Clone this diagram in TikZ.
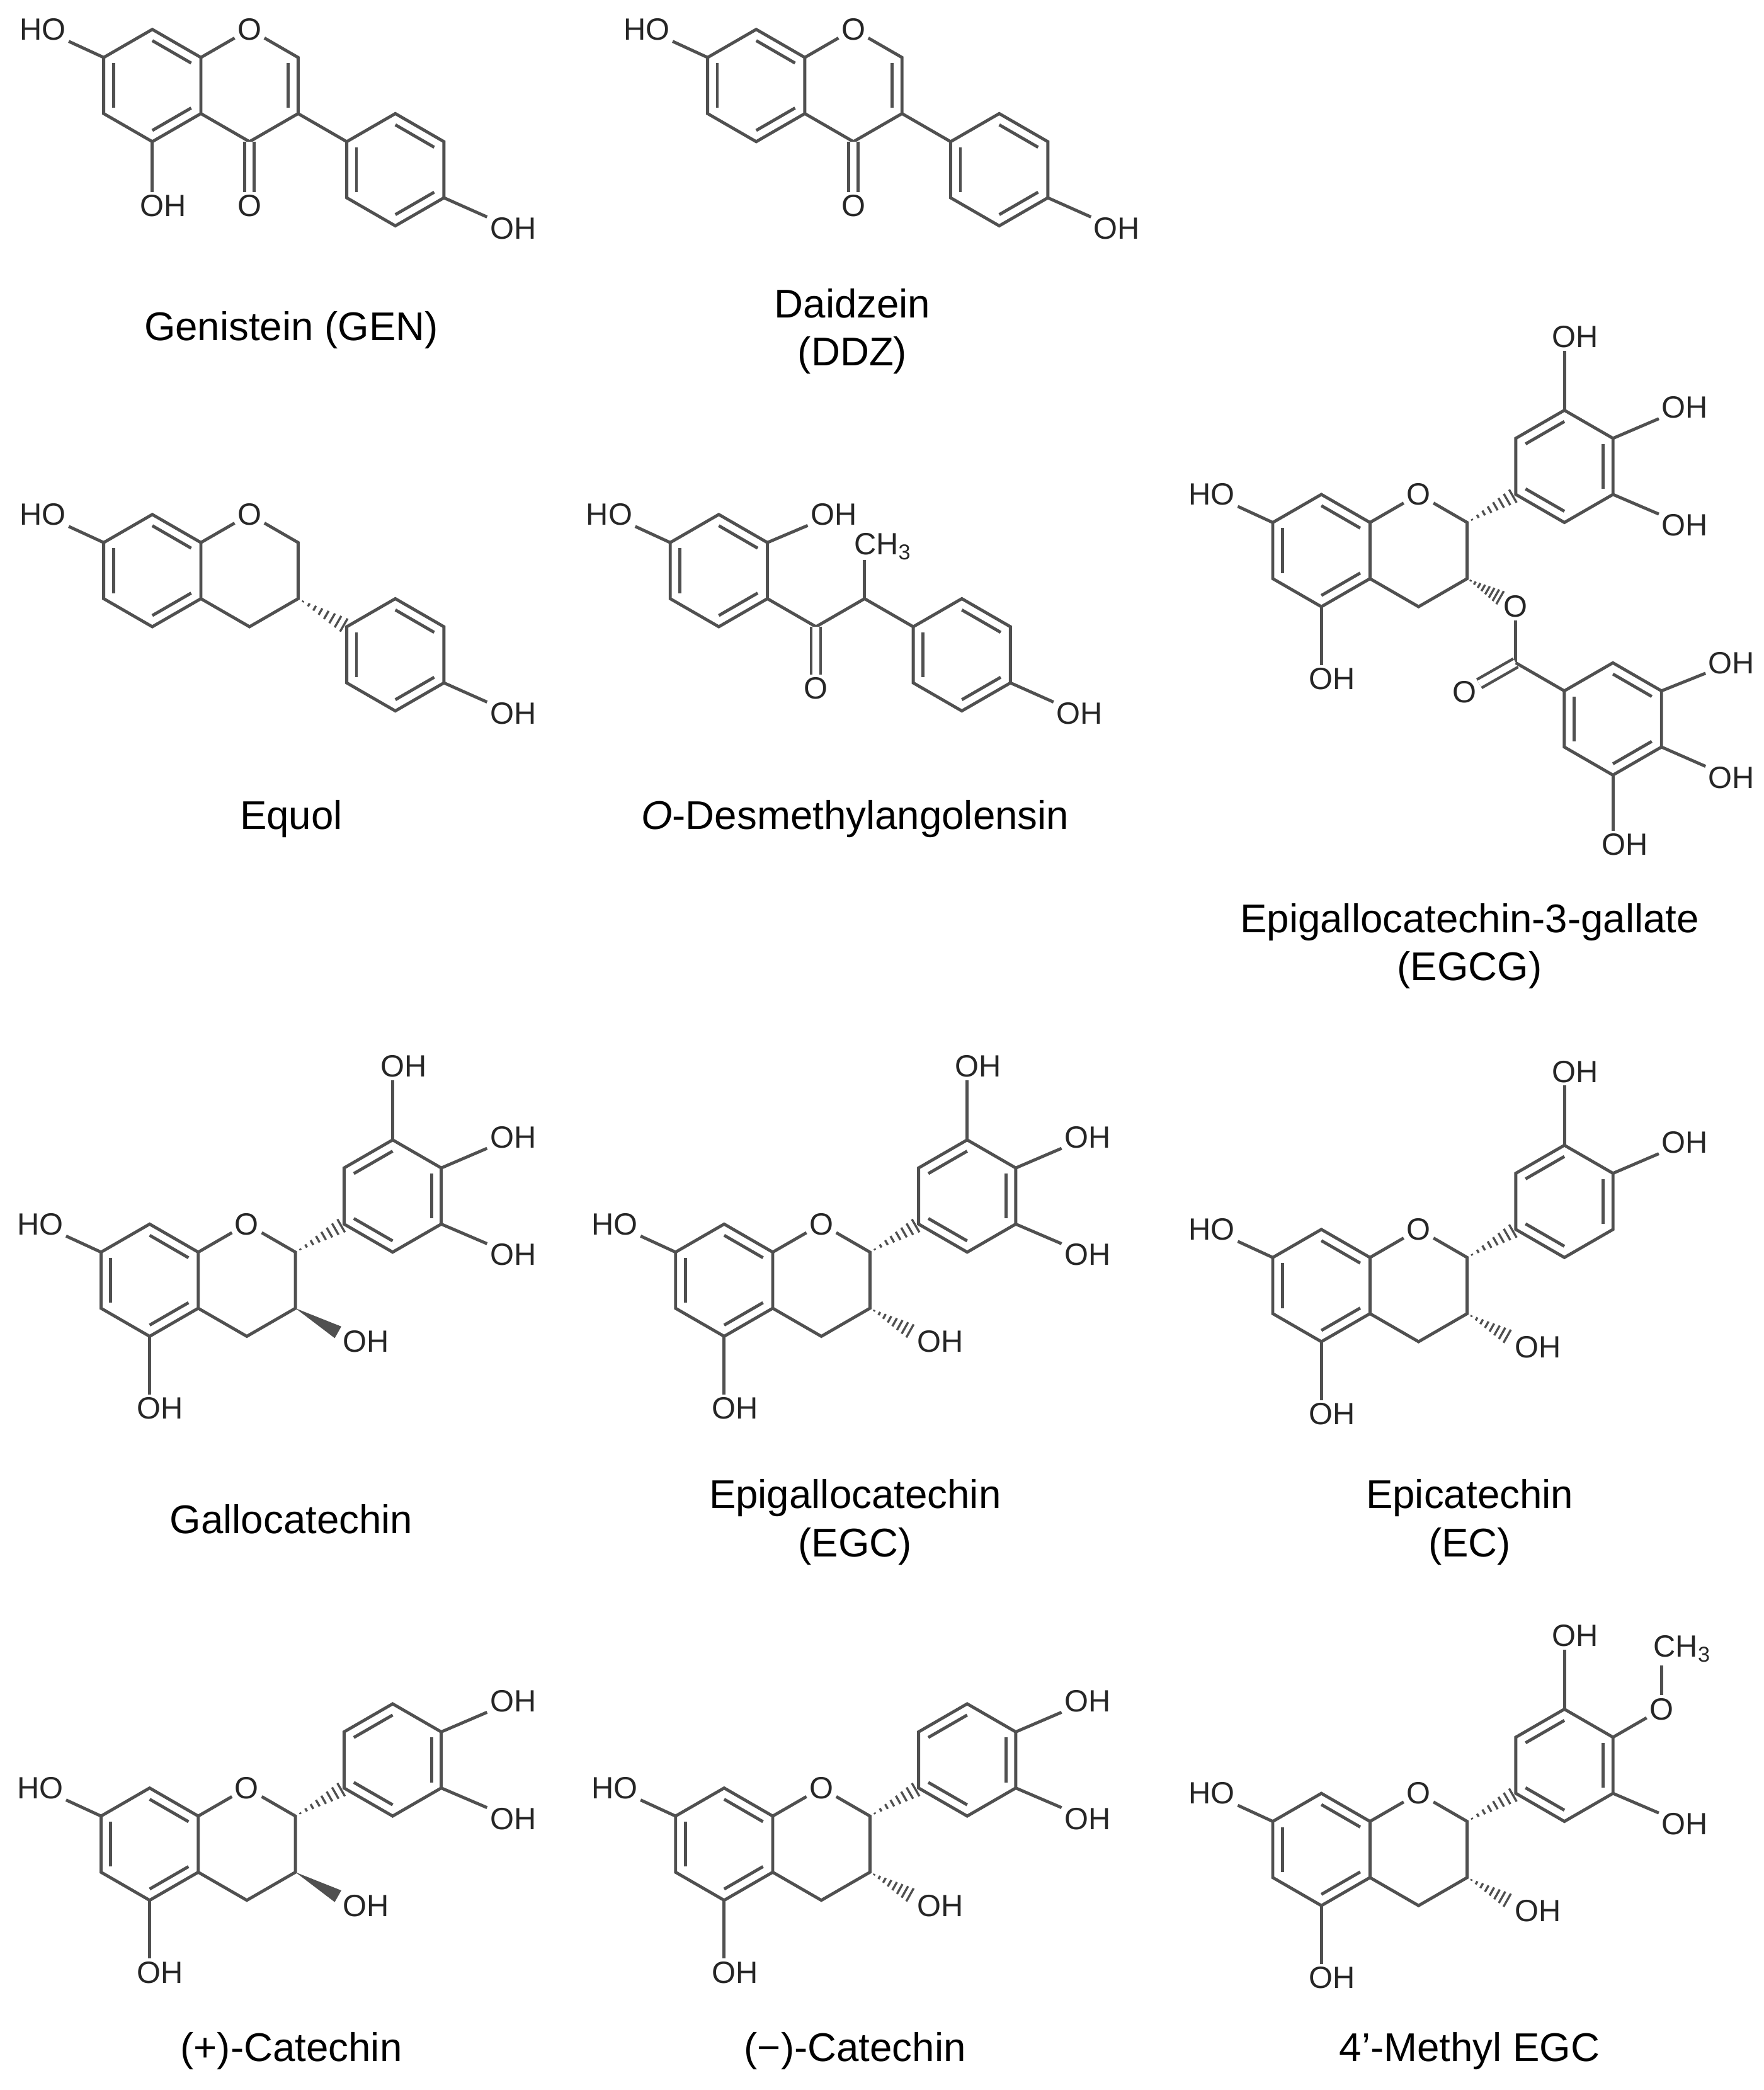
\documentclass[tikz,border=0pt]{standalone}
\usepackage{fontspec}
\setmainfont{Liberation Sans}
\usetikzlibrary{calc}
\definecolor{bondc}{HTML}{505050}
\def\bl{42}
\tikzset{bond/.style={draw=bondc,line width=2.3pt},
 dblbond/.style={draw=bondc,line width=2.1pt,double=white,double distance=5pt},
 lab/.style={font=\fontsize{23}{23}\selectfont,inner sep=2pt,text=black!85},
 capt/.style={font=\fontsize{30}{36}\selectfont,align=center,text=black}}
\newcommand\hexc[2]{\foreach \i/\a in {0/-90,1/-30,2/30,3/90,4/150,5/210}{\coordinate (#1\i) at ($(#2)+(\a:\bl)$);}}
\newcommand\fullring[1]{\draw[bond] (#10)--(#11)--(#12)--(#13)--(#14)--(#15)--cycle;}
\newcommand\db[3]{\draw[bond] ($(#1)!0.2!(#3)$) -- ($(#2)!0.2!(#3)$);}
\newcommand\hashb[2]{\foreach \t in {0.1,0.22,...,0.95}{\draw[draw=bondc,line width=1.6pt] ($(#1)!\t!(#2)!{\t*6pt}!90:(#2)$) -- ($(#1)!\t!(#2)!{\t*6pt}!-90:(#2)$);}}
\newcommand\wedgeb[2]{\fill[bondc] (#1) -- ($(#2)!5pt!90:(#1)$) -- ($(#2)!5pt!-90:(#1)$) -- cycle;}
\newcommand\flavan[2]{%
 \coordinate (A) at (0,0); \coordinate (C) at (72.75,0); \coordinate (B) at (181.9,-63);
 \hexc{a}{A}\hexc{c}{C}\hexc{b}{B}
 \fullring{a}\db{a0}{a1}{A}\db{a2}{a3}{A}\db{a4}{a5}{A}
 \node[lab] (o1) at (c0) {O};
 \draw[bond] (a1)--(o1)--(c1)--(c2)--(c3)--(a2);
 \fullring{b}\db{b5}{b0}{B}\db{b1}{b2}{B}\db{b3}{b4}{B}
 \hashb{c1}{b4}
 \node[lab] (ho7) at (-82,-42) {HO}; \draw[bond] (a5)--(ho7);
 \node[lab] (oh5) at (8,96) {OH}; \draw[bond] (a3)--(a3|-oh5.north);
 \coordinate (e3) at (141,39);
 \ifx h#2 \node[lab] (oh3) at (162,46) {OH}; \hashb{c2}{e3}\fi
 \ifx w#2 \node[lab] (oh3) at (162,46) {OH}; \wedgeb{c2}{e3}\fi
}
\newcommand\ohtop{\node[lab] (ohb0) at (190,-160) {OH}; \draw[bond] (b0)--(b0|-ohb0.south);}
\newcommand\ohur{\node[lab] (ohb1) at (272,-107) {OH}; \draw[bond] (b1)--(ohb1);}
\newcommand\ohlr{\node[lab] (ohb2) at (272,-19) {OH}; \draw[bond] (b2)--(ohb2);}
\begin{document}
\begin{tikzpicture}[x=1pt,y=-1pt]
\useasboundingbox[fill=white] (0,0) rectangle (1320,1564);
\foreach \px/\py/\kind in {114/64/g,566/64/d,114/427/e}{
\begin{scope}[shift={(\px,\py)}]
 \coordinate (A) at (0,0); \coordinate (C) at (72.75,0); \coordinate (P) at (181.9,63);
 \hexc{a}{A}\hexc{c}{C}\hexc{p}{P}
 \fullring{a}\db{a0}{a1}{A}\db{a2}{a3}{A}\db{a4}{a5}{A}
 \node[lab] (o1) at (c0) {O};
 \draw[bond] (a1)--(o1)--(c1)--(c2)--(c3)--(a2);
 \fullring{p}\db{p0}{p1}{P}\db{p2}{p3}{P}\db{p4}{p5}{P}
 \node[lab] (ho7) at (-82,-42) {HO}; \draw[bond] (a5)--(ho7);
 \node[lab] (ohp) at (270,107) {OH}; \draw[bond] (p2)--(ohp);
 \if e\kind
  \hashb{c2}{p5}
 \else
  \db{c1}{c2}{C}
  \draw[bond] (c2)--(p5);
  \node[lab] (ok) at (72.75,90) {O}; \draw[dblbond] (c3)--(ok);
 \fi
 \if g\kind
  \node[lab] (oh5) at (8,90) {OH}; \draw[bond] (a3)--(a3|-oh5.north);
 \fi
\end{scope}}
\node[capt] (t1) at (218,247) {Genistein (GEN)};
\node[capt] (t2) at (638,248) {Daidzein\\(DDZ)};
\node[capt] (t3) at (218,613) {Equol};
\begin{scope}[shift={(538,427)}]
 \coordinate (R) at (0,0); \hexc{r}{R}
 \fullring{r}\db{r0}{r1}{R}\db{r2}{r3}{R}\db{r4}{r5}{R}
 \node[lab] (hoa) at (-82,-42) {HO}; \draw[bond] (r5)--(hoa);
 \node[lab] (ohb) at (86,-42) {OH}; \draw[bond] (r1)--(ohb);
 \coordinate (K) at (72.75,42); \coordinate (H) at (109.1,21);
 \coordinate (Q) at (181.9,63); \hexc{q}{Q}
 \draw[bond] (r2)--(K)--(H)--(q5);
 \node[lab] (okd) at (72.75,88) {O}; \draw[dblbond] (K)--(okd);
 \node[lab,anchor=base west,inner sep=0pt] (me) at (101,-12) {CH\textsubscript{3}};
 \draw[bond] (H)--(109.1,-8);
 \fullring{q}\db{q0}{q1}{Q}\db{q2}{q3}{Q}\db{q4}{q5}{Q}
 \node[lab] (ohq) at (270,107) {OH}; \draw[bond] (q2)--(ohq);
\end{scope}
\node[capt] (t4) at (640,613) {\textit{O}-Desmethylangolensin};
\begin{scope}[shift={(989,412)}]
 \flavan{}{n}\ohtop\ohur\ohlr
 \node[lab] (oe) at (145.5,42) {O};
 \coordinate (oeh) at ($(c2)!0.72!(oe)$);
 \hashb{c2}{oeh}
 \coordinate (kc) at (145.5,84); \draw[bond] (oe)--(kc);
 \node[lab] (okc) at (107,106) {O}; \draw[dblbond] (kc)--(okc);
 \coordinate (G) at (218.2,126); \hexc{g}{G}
 \fullring{g}\db{g0}{g1}{G}\db{g2}{g3}{G}\db{g4}{g5}{G}
 \draw[bond] (kc)--(g5);
 \node[lab] (og1) at (307,84) {OH}; \draw[bond] (g1)--(og1);
 \node[lab] (og2) at (307,170) {OH}; \draw[bond] (g2)--(og2);
 \node[lab] (og3) at (227,220) {OH}; \draw[bond] (g3)--(g3|-og3.north);
\end{scope}
\node[capt] (t5) at (1100,708) {Epigallocatechin-3-gallate\\(EGCG)};
\begin{scope}[shift={(112,958)}] \flavan{}{w}\ohtop\ohur\ohlr \end{scope}
\begin{scope}[shift={(542,958)}] \flavan{}{h}\ohtop\ohur\ohlr \end{scope}
\begin{scope}[shift={(989,962)}] \flavan{}{h}\ohtop\ohur \end{scope}
\node[capt] (t6) at (218,1137) {Gallocatechin};
\node[capt] (t7) at (640,1139) {Epigallocatechin\\(EGC)};
\node[capt] (t8) at (1100,1139) {Epicatechin\\(EC)};
\begin{scope}[shift={(112,1380)}] \flavan{}{w}\ohur\ohlr \end{scope}
\begin{scope}[shift={(542,1380)}] \flavan{}{h}\ohur\ohlr \end{scope}
\begin{scope}[shift={(989,1384)}] \flavan{}{h}\ohtop\ohlr
 \node[lab] (om) at (254.6,-105) {O}; \draw[bond] (b1)--(om);
 \node[lab] (cm) at (270,-150) {CH\textsubscript{3}}; \draw[bond] (om)--(om|-cm.south);
\end{scope}
\node[capt] (t9) at (218,1535) {(+)-Catechin};
\node[capt] (t10) at (640,1535) {(−)-Catechin};
\node[capt] (t11) at (1100,1535) {4’-Methyl EGC};
\end{tikzpicture}
\end{document}
